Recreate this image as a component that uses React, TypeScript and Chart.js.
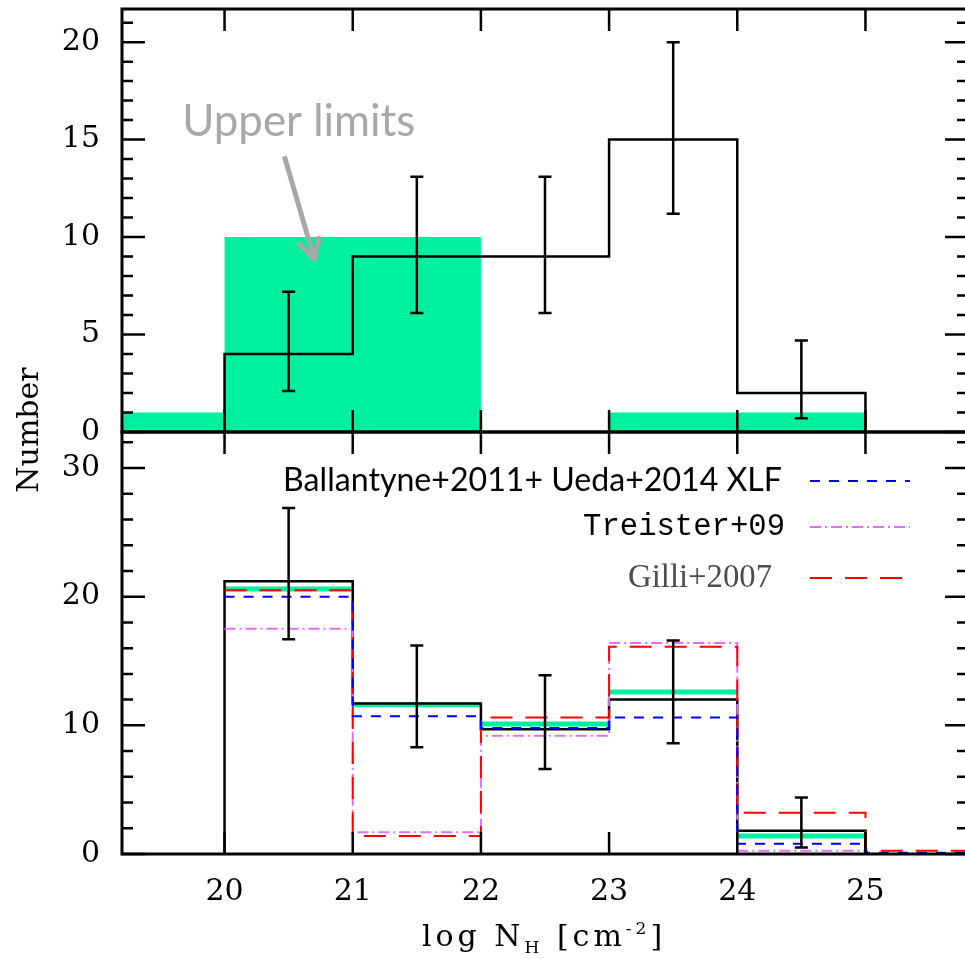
import React, { useEffect, useRef } from 'react';
import { Chart, registerables } from 'chart.js';
Chart.register(...registerables);

// ---------- data ----------
const binEdges = [20, 21, 22, 23, 24, 25];
const binCenters = [20.5, 21.5, 22.5, 23.5, 24.5];
const xTickValues = [20, 21, 22, 23, 24, 25];

// top panel
const topCounts = [4, 9, 9, 15, 2];
const topErrLow = [2.1, 6.1, 6.1, 11.2, 0.7];
const topErrHigh = [7.2, 13.1, 13.1, 20.0, 4.7];
const upperLimitEdges = [19, 20, 21, 22, 23, 24, 25];
const upperLimitCounts = [1, 10, 10, 0, 1, 1];
const topYMajor = [0, 5, 10, 15, 20];
const topYMinor = [1, 2, 3, 4, 6, 7, 8, 9, 11, 12, 13, 14, 16, 17, 18, 19, 21];

// bottom panel
const observedCounts = [21.2, 11.7, 9.7, 12.0, 1.8];
const obsErrLow = [16.7, 8.3, 6.6, 8.6, 0.5];
const obsErrHigh = [26.9, 16.2, 13.9, 16.6, 4.4];
const correctedCounts = [20.6, 11.6, 10.1, 12.6, 1.4];
const modelEdges = [20, 21, 22, 23, 24, 25, 26];
const ballantyneCounts = [20.0, 10.7, 9.8, 10.6, 0.8, 0.1];
const treisterCounts = [17.5, 1.7, 9.2, 16.4, 0.25, 0];
const gilliCounts = [20.5, 1.4, 10.6, 16.1, 3.2, 0.25];
const bottomYMajor = [0, 10, 20, 30];
const bottomYMinor = [2, 4, 6, 8, 12, 14, 16, 18, 22, 24, 26, 28, 32];

const legendLabels = ['Ballantyne+2011+ Ueda+2014 XLF', 'Treister+09', 'Gilli+2007'];
const annotationText = 'Upper limits';
const xTitleParts = ['log N', 'H', ' [cm', '-2', ']'];
const yTitle = 'Number';

// ---------- styles ----------
const GREEN = '#00F0A0';
const BLUE = '#0000FF';
const VIOLET = '#E070F8';
const RED = '#FF0000';
const AXIS_FONT = 'DejaVu Serif';
const W = 975;
const H = 959;
const TOP_OFFSET = 60; // top canvas is shifted up by this many px

function histPoints(edges: number[], values: number[]) {
  const n = values.length;
  const pts: { x: number; y: number }[] = [{ x: edges[0], y: 0 }];
  values.forEach((v, i) => pts.push({ x: edges[i], y: v }));
  pts.push({ x: edges[n], y: values[n - 1] });
  pts.push({ x: edges[n], y: 0 });
  return pts;
}
function stepPoints(edges: number[], values: number[]) {
  const n = values.length;
  const pts: { x: number; y: number }[] = values.map((v, i) => ({ x: edges[i], y: v }));
  pts.push({ x: edges[n], y: values[n - 1] });
  return pts;
}
function segPoints(edges: number[], values: number[]) {
  const pts: { x: number; y: number | null }[] = [];
  values.forEach((v, i) => {
    pts.push({ x: edges[i], y: v });
    pts.push({ x: edges[i + 1], y: v });
    pts.push({ x: edges[i + 1], y: null });
  });
  return pts;
}

function fitSize(ctx: CanvasRenderingContext2D, text: string, family: string, target: number) {
  ctx.font = `100px "${family}"`;
  const w = ctx.measureText(text).width;
  return (100 * target) / w;
}

function drawErrorBars(chart: any, centers: number[], lo: number[], hi: number[]) {
  const { ctx, scales } = chart;
  ctx.save();
  ctx.strokeStyle = '#000';
  ctx.lineWidth = 2.5;
  ctx.beginPath();
  centers.forEach((c, i) => {
    const px = scales.x.getPixelForValue(c);
    const p1 = scales.y.getPixelForValue(lo[i]);
    const p2 = scales.y.getPixelForValue(hi[i]);
    ctx.moveTo(px, p1);
    ctx.lineTo(px, p2);
    ctx.moveTo(px - 6.5, p1);
    ctx.lineTo(px + 6.5, p1);
    ctx.moveTo(px - 6.5, p2);
    ctx.lineTo(px + 6.5, p2);
  });
  ctx.stroke();
  ctx.restore();
}

function drawFrame(chart: any, yMajor: number[], yMinor: number[]) {
  const { ctx, chartArea: a, scales } = chart;
  ctx.save();
  ctx.strokeStyle = '#000';
  ctx.lineWidth = 2.5;
  ctx.beginPath();
  for (const v of xTickValues) {
    const p = scales.x.getPixelForValue(v);
    ctx.moveTo(p, a.top);
    ctx.lineTo(p, a.top + 22);
    ctx.moveTo(p, a.bottom);
    ctx.lineTo(p, a.bottom - 22);
  }
  for (const v of yMajor) {
    const p = scales.y.getPixelForValue(v);
    ctx.moveTo(a.left, p);
    ctx.lineTo(a.left + 23, p);
    ctx.moveTo(a.right, p);
    ctx.lineTo(a.right - 23, p);
  }
  for (const v of yMinor) {
    const p = scales.y.getPixelForValue(v);
    if (p < a.top) continue;
    ctx.moveTo(a.left, p);
    ctx.lineTo(a.left + 11, p);
    ctx.moveTo(a.right, p);
    ctx.lineTo(a.right - 11, p);
  }
  ctx.stroke();
  ctx.lineWidth = 3;
  ctx.strokeRect(a.left, a.top, a.right - a.left, a.bottom - a.top);
  ctx.restore();
}

const topPlugin = {
  id: 'topDeco',
  afterDatasetsDraw(chart: any) {
    drawErrorBars(chart, binCenters, topErrLow, topErrHigh);
    drawFrame(chart, topYMajor, topYMinor);
    const { ctx, scales } = chart;
    const x = scales.x, y = scales.y;
    ctx.save();
    const size = fitSize(ctx, annotationText, 'Lato', 233);
    ctx.font = `${size}px "Lato"`;
    ctx.fillStyle = '#A8A8A8';
    ctx.textAlign = 'left';
    ctx.textBaseline = 'alphabetic';
    ctx.fillText(annotationText, x.getPixelForValue(19.67), y.getPixelForValue(15.17));
    const x1 = x.getPixelForValue(20.467), y1 = y.getPixelForValue(14.14);
    const x2 = x.getPixelForValue(20.70), y2 = y.getPixelForValue(8.89);
    ctx.strokeStyle = '#A8A8A8';
    ctx.lineWidth = 5;
    ctx.beginPath();
    ctx.moveTo(x1, y1);
    ctx.lineTo(x2, y2);
    const ang = Math.atan2(y1 - y2, x1 - x2);
    const L = 23;
    ctx.moveTo(x2 + L * Math.cos(ang + 0.52), y2 + L * Math.sin(ang + 0.52));
    ctx.lineTo(x2, y2);
    ctx.lineTo(x2 + L * Math.cos(ang - 0.52), y2 + L * Math.sin(ang - 0.52));
    ctx.stroke();
    ctx.restore();
  },
};

const bottomPlugin = {
  id: 'bottomDeco',
  afterDatasetsDraw(chart: any) {
    drawErrorBars(chart, binCenters, obsErrLow, obsErrHigh);
    drawFrame(chart, bottomYMajor, bottomYMinor);
    const { ctx } = chart;
    ctx.save();
    const rows = [
      { family: 'Lato', width: 499, right: 782, y: 481, color: '#000', stroke: BLUE, dash: [10, 9] },
      { family: 'Liberation Mono', width: 202, right: 785, y: 527, color: '#000', stroke: VIOLET, dash: [11, 4, 2, 4] },
      { family: 'Liberation Serif', width: 144, right: 772, y: 578, color: '#4D4D4D', stroke: RED, dash: [22, 13] },
    ];
    rows.forEach((r, i) => {
      const s = fitSize(ctx, legendLabels[i], r.family, r.width);
      ctx.font = `${s}px "${r.family}"`;
      ctx.fillStyle = r.color;
      ctx.textAlign = 'right';
      ctx.textBaseline = 'middle';
      ctx.fillText(legendLabels[i], r.right, r.y);
      ctx.strokeStyle = r.stroke;
      ctx.lineWidth = 2;
      ctx.setLineDash(r.dash);
      ctx.beginPath();
      ctx.moveTo(810, r.y);
      ctx.lineTo(910, r.y);
      ctx.stroke();
      ctx.setLineDash([]);
    });
    ctx.font = `30px "${AXIS_FONT}"`;
    ctx.fillStyle = '#000';
    ctx.save();
    ctx.translate(30, 430);
    ctx.rotate(-Math.PI / 2);
    ctx.textAlign = 'center';
    ctx.textBaseline = 'middle';
    ctx.fillText(yTitle, 0, 0);
    ctx.restore();
    const parts = [
      { t: xTitleParts[0], s: 30, dy: 0 },
      { t: xTitleParts[1], s: 17, dy: 7 },
      { t: xTitleParts[2], s: 30, dy: 0 },
      { t: xTitleParts[3], s: 17, dy: -12 },
      { t: xTitleParts[4], s: 30, dy: 0 },
    ];
    const spacing = 4;
    (ctx as any).letterSpacing = `${spacing}px`;
    let total = 0;
    parts.forEach((p) => {
      ctx.font = `${p.s}px "${AXIS_FONT}"`;
      total += ctx.measureText(p.t).width;
    });
    let cx = 544 - total / 2;
    const base = 946;
    ctx.textAlign = 'left';
    ctx.textBaseline = 'alphabetic';
    parts.forEach((p) => {
      ctx.font = `${p.s}px "${AXIS_FONT}"`;
      ctx.fillText(p.t, cx, base + p.dy);
      cx += ctx.measureText(p.t).width;
    });
    (ctx as any).letterSpacing = '0px';
    ctx.restore();
  },
};

function baseScales(yMax: number, yTicks: number[], showX: boolean) {
  const x: any = {
    type: 'linear',
    min: 19.2,
    max: 25.8,
    display: showX,
    afterBuildTicks: (s: any) => {
      s.ticks = xTickValues.map((v) => ({ value: v }));
    },
    grid: { display: false, drawTicks: false },
    border: { display: false },
    ticks: {
      color: '#000',
      padding: 20,
      maxRotation: 0,
      autoSkip: false,
      font: { family: AXIS_FONT, size: 30 },
    },
  };
  if (showX) {
    x.afterFit = (s: any) => {
      s.height = 105;
    };
  }
  return {
    x,
    y: {
      type: 'linear',
      min: 0,
      max: yMax,
      afterBuildTicks: (s: any) => {
        s.ticks = yTicks.map((v) => ({ value: v }));
      },
      afterFit: (s: any) => {
        s.width = 122;
      },
      grid: { display: false, drawTicks: false },
      border: { display: false },
      ticks: {
        color: '#000',
        padding: 22,
        autoSkip: false,
        font: { family: AXIS_FONT, size: 30 },
      },
    },
  };
}

export default function App() {
  const topRef = useRef<HTMLCanvasElement>(null);
  const botRef = useRef<HTMLCanvasElement>(null);

  useEffect(() => {
    const common = {
      responsive: false,
      animation: false as const,
      devicePixelRatio: 1,
      events: [] as any[],
      elements: { point: { radius: 0 } },
    };
    const topH = 432 + TOP_OFFSET + 70;
    const top = new Chart(topRef.current!, {
      type: 'line',
      data: {
        datasets: [
          {
            label: 'Detected',
            data: histPoints(binEdges, topCounts),
            borderColor: '#000',
            borderWidth: 2.5,
            stepped: true,
            fill: false,
          },
          {
            label: 'Upper limits',
            data: histPoints(upperLimitEdges, upperLimitCounts),
            borderColor: GREEN,
            borderWidth: 0,
            backgroundColor: GREEN,
            stepped: true,
            fill: 'origin',
          },
        ],
      },
      options: {
        ...common,
        layout: { padding: { top: 9 + TOP_OFFSET, bottom: 70, left: 0, right: W - 968 } },
        plugins: { legend: { display: false }, tooltip: { enabled: false } },
        scales: baseScales(21.7, topYMajor, false),
      } as any,
      plugins: [topPlugin],
    });
    const bottom = new Chart(botRef.current!, {
      type: 'line',
      data: {
        datasets: [
          {
            label: legendLabels[0],
            data: stepPoints(modelEdges, ballantyneCounts),
            borderColor: BLUE,
            borderWidth: 2,
            borderDash: [10, 9],
            stepped: true,
            fill: false,
          },
          {
            label: legendLabels[2],
            data: stepPoints(modelEdges, gilliCounts),
            borderColor: RED,
            borderWidth: 2,
            borderDash: [22, 13],
            stepped: true,
            fill: false,
          },
          {
            label: legendLabels[1],
            data: stepPoints(modelEdges, treisterCounts),
            borderColor: VIOLET,
            borderWidth: 2,
            borderDash: [11, 4, 2, 4],
            stepped: true,
            fill: false,
          },
          {
            label: 'Observed',
            data: histPoints(binEdges, observedCounts),
            borderColor: '#000',
            borderWidth: 2.5,
            stepped: true,
            fill: false,
          },
          {
            label: 'Corrected',
            data: segPoints(binEdges, correctedCounts),
            borderColor: GREEN,
            borderWidth: 5,
            fill: false,
            spanGaps: false,
          },
        ],
      },
      options: {
        ...common,
        layout: { padding: { top: 432, bottom: 0, left: 0, right: W - 968 } },
        plugins: { legend: { display: false }, tooltip: { enabled: false } },
        scales: baseScales(32.8, bottomYMajor, true),
      } as any,
      plugins: [bottomPlugin],
    });
    return () => {
      top.destroy();
      bottom.destroy();
    };
  }, []);

  return (
    <div
      style={{
        position: 'fixed',
        left: 0,
        top: 0,
        width: 965,
        height: 959,
        overflow: 'hidden',
        background: '#fff',
      }}
    >
      <canvas
        ref={topRef}
        width={W}
        height={432 + TOP_OFFSET + 70}
        style={{ position: 'absolute', left: 0, top: -TOP_OFFSET }}
      />
      <canvas ref={botRef} width={W} height={H} style={{ position: 'absolute', left: 0, top: 0 }} />
    </div>
  );
}
